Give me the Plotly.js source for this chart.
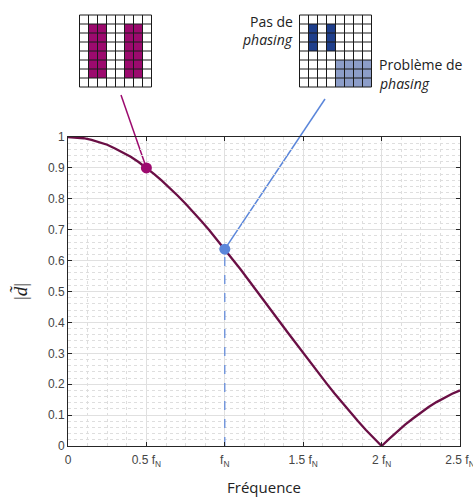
<!DOCTYPE html>
<html>
<head>
<meta charset="utf-8">
<script src="https://cdn.plot.ly/plotly-3.0.1.min.js"></script>
<style>html,body{margin:0;padding:0;background:#fff;}#chart{width:473px;height:497px;}</style>
</head>
<body>
<div id="chart"></div>
<script>
// Frequency (in units of f_N) and magnitude |d~|
const freq = [0,0.05,0.1,0.15,0.2,0.25,0.3,0.35,0.4,0.45,0.5,0.55,0.6,0.65,0.7,0.75,0.8,0.85,0.9,0.95,
  1.0,1.05,1.1,1.15,1.2,1.25,1.3,1.35,1.4,1.45,1.5,1.55,1.6,1.65,1.7,1.75,1.8,1.85,1.9,1.95,
  2.0,2.05,2.1,2.15,2.2,2.25,2.3,2.35,2.4,2.45,2.5];
const magnitude = [1.000,0.999,0.996,0.991,0.984,0.975,0.963,0.950,0.936,0.919,0.900,0.880,0.858,0.835,0.810,0.784,0.757,0.728,0.699,0.668,
  0.637,0.604,0.572,0.538,0.505,0.471,0.436,0.402,0.368,0.334,0.300,0.267,0.234,0.202,0.170,0.139,0.109,0.080,0.052,0.026,
  0.000,0.024,0.047,0.069,0.089,0.108,0.126,0.142,0.156,0.169,0.180];
// Highlighted points
const pointF = [0.5, 1.0];
const pointMag = [0.900, 0.637];
// Tick labels
const xTickVals = [0, 0.5, 1, 1.5, 2, 2.5];
const xTickText = ['0', '0.5 f<sub>N</sub>', 'f<sub>N</sub>', '1.5 f<sub>N</sub>', '2 f<sub>N</sub>', '2.5 f<sub>N</sub>'];
const yTickVals = [0,0.1,0.2,0.3,0.4,0.5,0.6,0.7,0.8,0.9,1];
const yTickText = ['0','0.1','0.2','0.3','0.4','0.5','0.6','0.7','0.8','0.9','1'];
// Inset cell patterns [col,row]
const insetA = [[1,1],[1,2],[1,3],[1,4],[1,5],[1,6],[2,1],[2,2],[2,3],[2,4],[2,5],[2,6],
                [5,1],[5,2],[5,3],[5,4],[5,5],[5,6],[6,1],[6,2],[6,3],[6,4],[6,5],[6,6]];
const insetBdark = [[1,1],[1,2],[1,3],[3,1],[3,2],[3,3]];
const insetBlight = [[4,5],[4,6],[4,7],[5,5],[5,6],[5,7],[6,5],[6,6],[6,7],[7,5],[7,6],[7,7]];

const XMAX = 2.5;
const L = 68, R = 460, T = 137, B = 446;
const px = x => (x - L) / (R - L);
const py = y => (B - y) / (B - T);

const MAG = '#9c0a6e', CURVE = '#6a0f45', BLUE = '#5b86da', DBLUE = '#1f3f8c', LBLUE = '#8c9dc8';

const shapes = [];
function cells(list, x0, y0, color) {
  list.forEach(([c, r]) => shapes.push({type:'rect', xref:'paper', yref:'paper', layer:'above',
    x0: px(x0 + c*9), x1: px(x0 + (c+1)*9), y0: py(y0 + r*9), y1: py(y0 + (r+1)*9),
    fillcolor: color, line:{width:0}}));
}
function grid(x0, y0) {
  for (let i = 0; i <= 8; i++) {
    shapes.push({type:'line', xref:'paper', yref:'paper', layer:'above',
      x0: px(x0 + i*9), x1: px(x0 + i*9), y0: py(y0), y1: py(y0 + 72), line:{color:'#1a1a1a', width:1}});
    shapes.push({type:'line', xref:'paper', yref:'paper', layer:'above',
      x0: px(x0), x1: px(x0 + 72), y0: py(y0 + i*9), y1: py(y0 + i*9), line:{color:'#1a1a1a', width:1}});
  }
}
cells(insetA, 79.5, 15, MAG); grid(79.5, 15);
cells(insetBdark, 299.5, 15, DBLUE); cells(insetBlight, 299.5, 15, LBLUE); grid(299.5, 15);
// connectors from insets to the highlighted points
shapes.push({type:'line', xref:'paper', yref:'paper', layer:'below',
  x0: px(121), y0: py(95), x1: pointF[0]/XMAX, y1: pointMag[0], line:{color:MAG, width:1.5}});
shapes.push({type:'line', xref:'paper', yref:'paper', layer:'below',
  x0: px(325), y0: py(99), x1: pointF[1]/XMAX, y1: pointMag[1], line:{color:BLUE, width:1.5}});

const txtFont = {family:'Open Sans, Noto Sans, sans-serif', size:14, color:'#222'};
const annotations = [
  {xref:'paper', yref:'paper', x:px(295), y:py(21), xanchor:'right', yanchor:'middle', text:'Pas de', showarrow:false, font:txtFont},
  {xref:'paper', yref:'paper', x:px(295), y:py(39), xanchor:'right', yanchor:'middle', text:'<i>phasing</i>', showarrow:false, font:txtFont},
  {xref:'paper', yref:'paper', x:px(377), y:py(64), xanchor:'left', yanchor:'middle', text:'Problème de', showarrow:false, font:txtFont},
  {xref:'paper', yref:'paper', x:px(377), y:py(84), xanchor:'left', yanchor:'middle', text:'<i>phasing</i>', showarrow:false, font:txtFont}
];

const traces = [
  {x:[pointF[1], pointF[1]], y:[0, pointMag[1]], mode:'lines', line:{color:BLUE, width:1.2, dash:'dash'}, hoverinfo:'skip'},
  {x:freq, y:magnitude, mode:'lines', line:{color:CURVE, width:2.3}},
  {x:[pointF[0]], y:[pointMag[0]], mode:'markers', marker:{color:MAG, size:11}},
  {x:[pointF[1]], y:[pointMag[1]], mode:'markers', marker:{color:BLUE, size:11}}
];

const axisCommon = {
  showline:true, mirror:'ticks', linecolor:'#262626', linewidth:1,
  ticks:'inside', ticklen:4, tickcolor:'#262626',
  showgrid:true, gridcolor:'#e0e0e0', gridwidth:1, zeroline:false,
  ticklabeloverflow:'allow',
  tickfont:{family:'Liberation Sans, Arial, sans-serif', size:12, color:'#454545'}
};

const layout = {
  width:473, height:497,
  margin:{l:68, r:13, t:137, b:51},
  paper_bgcolor:'#fff', plot_bgcolor:'#fff',
  showlegend:false,
  xaxis: Object.assign({}, axisCommon, {
    range:[0, XMAX], tickmode:'array', tickvals:xTickVals, ticktext:xTickText,
    ticklabelstandoff:3,
    minor:{dtick:0.125, showgrid:true, gridcolor:'#dedede', griddash:'dot', gridwidth:1, ticks:''},
    title:{text:'Fréquence', font:{family:'Open Sans, Noto Sans, sans-serif', size:15, color:'#222'}, standoff:14}
  }),
  yaxis: Object.assign({}, axisCommon, {
    range:[0, 1], tickmode:'array', tickvals:yTickVals, ticktext:yTickText,
    minor:{dtick:0.02, showgrid:true, gridcolor:'#dedede', griddash:'dot', gridwidth:1, ticks:''},
    title:{text:'|<i>d̃</i>|', font:{family:'Liberation Serif, serif', size:19, color:'#222'}, standoff:15}
  }),
  shapes: shapes,
  annotations: annotations
};

Plotly.newPlot('chart', traces, layout, {displayModeBar:false, staticPlot:true});
</script>
</body>
</html>
